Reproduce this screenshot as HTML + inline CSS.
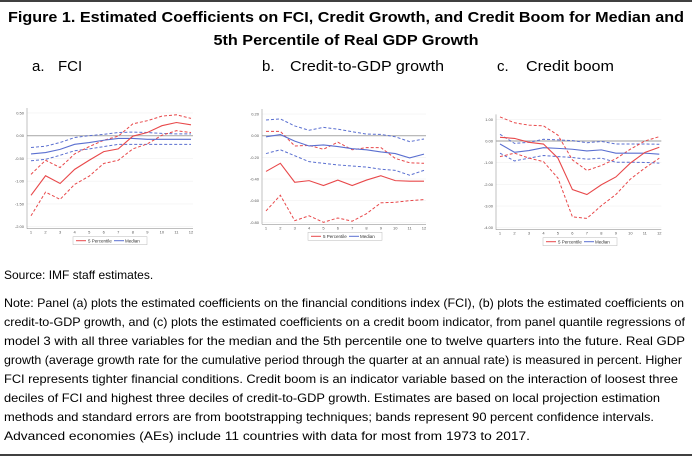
<!DOCTYPE html>
<html><head><meta charset="utf-8"><style>
html,body{margin:0;padding:0;background:#fff;}
svg{display:block;font-family:"Liberation Sans",Arial,sans-serif;}
</style></head><body>
<svg id="fig" width="692" height="458" viewBox="0 0 692 458" xmlns="http://www.w3.org/2000/svg">
<line x1="0" y1="1" x2="692" y2="1" stroke="#000" stroke-width="1.5"/>
<line x1="0" y1="455" x2="692" y2="455" stroke="#000" stroke-width="1.5"/>
<text x="346" y="22" text-anchor="middle" font-size="15" font-weight="bold" textLength="676" lengthAdjust="spacingAndGlyphs">Figure 1. Estimated Coefficients on FCI, Credit Growth, and Credit Boom for Median and</text>
<text x="346" y="45" text-anchor="middle" font-size="15" font-weight="bold" textLength="265" lengthAdjust="spacingAndGlyphs">5th Percentile of Real GDP Growth</text>
<text x="32" y="71" font-size="15">a.</text>
<text x="58" y="71" font-size="15">FCI</text>
<text x="262" y="71" font-size="15">b.</text>
<text x="290" y="71" font-size="15" textLength="154" lengthAdjust="spacingAndGlyphs">Credit-to-GDP growth</text>
<text x="497" y="71" font-size="15">c.</text>
<text x="526" y="71" font-size="15" textLength="88" lengthAdjust="spacingAndGlyphs">Credit boom</text>
<g id="charts"></g>
<text x="4" y="279" font-size="12">Source: IMF staff estimates.</text>
<g font-size="12">
<text x="4" y="307" textLength="680" lengthAdjust="spacingAndGlyphs">Note: Panel (a) plots the estimated coefficients on the financial conditions index (FCI), (b) plots the estimated coefficients on</text>
<text x="4" y="326" textLength="681" lengthAdjust="spacingAndGlyphs">credit-to-GDP growth, and (c) plots the estimated coefficients on a credit boom indicator, from panel quantile regressions of</text>
<text x="4" y="345" textLength="681" lengthAdjust="spacingAndGlyphs">model 3 with all three variables for the median and the 5th percentile one to twelve quarters into the future. Real GDP</text>
<text x="4" y="364" textLength="678" lengthAdjust="spacingAndGlyphs">growth (average growth rate for the cumulative period through the quarter at an annual rate) is measured in percent. Higher</text>
<text x="4" y="383" textLength="674" lengthAdjust="spacingAndGlyphs">FCI represents tighter financial conditions. Credit boom is an indicator variable based on the interaction of loosest three</text>
<text x="4" y="402" textLength="656" lengthAdjust="spacingAndGlyphs">deciles of FCI and highest three deciles of credit-to-GDP growth. Estimates are based on local projection estimation</text>
<text x="4" y="421" textLength="650" lengthAdjust="spacingAndGlyphs">methods and standard errors are from bootstrapping techniques; bands represent 90 percent confidence intervals.</text>
<text x="4" y="440" textLength="526" lengthAdjust="spacingAndGlyphs">Advanced economies (AEs) include 11 countries with data for most from 1973 to 2017.</text>
</g>
</svg>
<script>
const quarters = [1,2,3,4,5,6,7,8,9,10,11,12];
// Panel a: FCI
const fciP5 = [-1.31,-0.88,-1.05,-0.74,-0.54,-0.35,-0.29,-0.01,0.07,0.22,0.29,0.24];
const fciP5Hi = [-0.85,-0.54,-0.70,-0.40,-0.24,-0.10,-0.01,0.26,0.33,0.43,0.46,0.38];
const fciP5Lo = [-1.76,-1.24,-1.40,-1.07,-0.89,-0.61,-0.54,-0.29,-0.18,0.01,0.11,0.07];
const fciMed = [-0.40,-0.37,-0.30,-0.19,-0.15,-0.10,-0.06,-0.06,-0.08,-0.08,-0.08,-0.08];
const fciMedHi = [-0.26,-0.23,-0.15,-0.04,0.00,0.03,0.07,0.08,0.07,0.05,0.04,0.04];
const fciMedLo = [-0.55,-0.52,-0.43,-0.33,-0.29,-0.24,-0.19,-0.19,-0.19,-0.19,-0.19,-0.19];
const fciTicks = [0.5,0,-0.5,-1,-1.5,-2];
// Panel b: credit-to-GDP growth
const cgP5 = [-0.33,-0.255,-0.43,-0.415,-0.46,-0.41,-0.46,-0.41,-0.37,-0.415,-0.42,-0.42];
const cgP5Hi = [0.04,0.04,-0.095,-0.09,-0.125,-0.06,-0.13,-0.11,-0.11,-0.21,-0.25,-0.255];
const cgP5Lo = [-0.695,-0.55,-0.785,-0.74,-0.80,-0.76,-0.79,-0.72,-0.62,-0.615,-0.60,-0.59];
const cgMed = [-0.01,0.01,-0.05,-0.095,-0.085,-0.10,-0.12,-0.13,-0.15,-0.165,-0.205,-0.17];
const cgMedHi = [0.145,0.155,0.09,0.05,0.077,0.06,0.037,0.015,0.012,-0.01,-0.055,-0.03];
const cgMedLo = [-0.165,-0.13,-0.185,-0.24,-0.255,-0.27,-0.28,-0.29,-0.31,-0.32,-0.365,-0.32];
const cgTicks = [0.2,0,-0.2,-0.4,-0.6,-0.8];
// Panel c: credit boom
const cbP5 = [0.17,0.12,-0.06,-0.14,-0.79,-2.24,-2.47,-2.02,-1.66,-1.02,-0.53,-0.29];
const cbP5Hi = [1.11,0.84,0.73,0.70,0.27,-0.87,-1.36,-1.13,-0.82,-0.38,0.0,0.2];
const cbP5Lo = [-0.72,-0.56,-0.79,-0.95,-1.71,-3.50,-3.57,-2.98,-2.47,-1.76,-1.25,-0.79];
const cbMed = [-0.14,-0.52,-0.44,-0.31,-0.34,-0.38,-0.46,-0.41,-0.56,-0.56,-0.56,-0.61];
const cbMedHi = [0.31,-0.11,-0.06,0.08,0.05,0.02,-0.08,-0.02,-0.14,-0.14,-0.14,-0.15];
const cbMedLo = [-0.56,-0.92,-0.79,-0.67,-0.72,-0.76,-0.84,-0.79,-0.98,-0.98,-0.99,-1.02];
const cbTicks = [1,0,-1,-2,-3,-4];

const NS='http://www.w3.org/2000/svg';
const root=document.getElementById('charts');
function mk(tag,attrs,parent){const e=document.createElementNS(NS,tag);for(const k in attrs)e.setAttribute(k,attrs[k]);(parent||root).appendChild(e);return e;}
const RED='#e8484a', BLUE='#5a6fd0';

function panel(id, x0, x1, v0, y0, v1, y1, ticks, dec, series, legX){
  const g=mk('g',{});
  
  
  const xs=q=>x0+(q-1)*(x1-x0)/11;
  const ys=v=>y0+(v-v0)*(y1-y0)/(v1-v0);
  const top=ys(ticks[0])-5, bot=ys(ticks[ticks.length-1]);
  ticks.forEach(t=>{
    const gl=mk('line',{x1:x0-4,x2:x1+2,y1:ys(t),y2:ys(t),stroke:t===0?'#b0b0b0':'#f0f0f0','stroke-width':t===0?1.2:0.6},g);
    
    
    const tl=mk('text',{x:x0-7,y:ys(t)+1.5,'font-size':4,'text-anchor':'end',fill:'#555'},g);
    
    
    tl.textContent=t.toFixed(dec);
  });
  const ax=mk('line',{x1:x0-4,x2:x0-4,y1:top,y2:bot+2,stroke:'#999','stroke-width':0.6},g);
  
  
  const bx=mk('line',{x1:x0-4,x2:x1+2,y1:bot+2,y2:bot+2,stroke:'#999','stroke-width':0.6},g);
  
  
  quarters.forEach(q=>{
    const xl=mk('text',{x:xs(q),y:bot+7,'font-size':4,'text-anchor':'middle',fill:'#555'},g);
    
    
    xl.textContent=q;
  });
  series.forEach(s=>{
    const p=mk('polyline',{points:s.d.map((v,i)=>xs(quarters[i])+','+ys(v)).join(' '),fill:'none',stroke:s.c,'stroke-width':s.dash?1:1.1,'stroke-dasharray':s.dash?'3,2':'none'},g);
    
    
  });
  const ly=bot+14;
  const lb=mk('rect',{x:legX-37,y:ly-4,width:74,height:8,fill:'#fff',stroke:'#bbb','stroke-width':0.5},g);
  
  
  mk('line',{x1:legX-34,x2:legX-24,y1:ly,y2:ly,stroke:RED,'stroke-width':1},g);
  const t1=mk('text',{x:legX-22,y:ly+1.6,'font-size':4.5,fill:'#333'},g);
  
  
  t1.textContent='5 Percentile';
  mk('line',{x1:legX+4,x2:legX+14,y1:ly,y2:ly,stroke:BLUE,'stroke-width':1},g);
  const t2=mk('text',{x:legX+15,y:ly+1.6,'font-size':4.5,fill:'#333'},g);
  
  
  t2.textContent='Median';
}
panel('fci',31,191,0,135.7,-2,226.7,fciTicks,2,[
 {d:fciMedHi,c:BLUE,dash:1,n:'median-upper-band'},{d:fciMedLo,c:BLUE,dash:1,n:'median-lower-band'},
 {d:fciP5Hi,c:RED,dash:1,n:'p5-upper-band'},{d:fciP5Lo,c:RED,dash:1,n:'p5-lower-band'},
 {d:fciMed,c:BLUE,n:'median-line'},{d:fciP5,c:RED,n:'p5-line'}],110);
panel('credit-growth',266,424,0,135.7,-0.8,222.3,cgTicks,2,[
 {d:cgMedHi,c:BLUE,dash:1,n:'median-upper-band'},{d:cgMedLo,c:BLUE,dash:1,n:'median-lower-band'},
 {d:cgP5Hi,c:RED,dash:1,n:'p5-upper-band'},{d:cgP5Lo,c:RED,dash:1,n:'p5-lower-band'},
 {d:cgMed,c:BLUE,n:'median-line'},{d:cgP5,c:RED,n:'p5-line'}],345);
panel('credit-boom',500,659.3,0,141,-4,227.7,cbTicks,2,[
 {d:cbMedHi,c:BLUE,dash:1,n:'median-upper-band'},{d:cbMedLo,c:BLUE,dash:1,n:'median-lower-band'},
 {d:cbP5Hi,c:RED,dash:1,n:'p5-upper-band'},{d:cbP5Lo,c:RED,dash:1,n:'p5-lower-band'},
 {d:cbMed,c:BLUE,n:'median-line'},{d:cbP5,c:RED,n:'p5-line'}],580);
</script>
</body></html>
